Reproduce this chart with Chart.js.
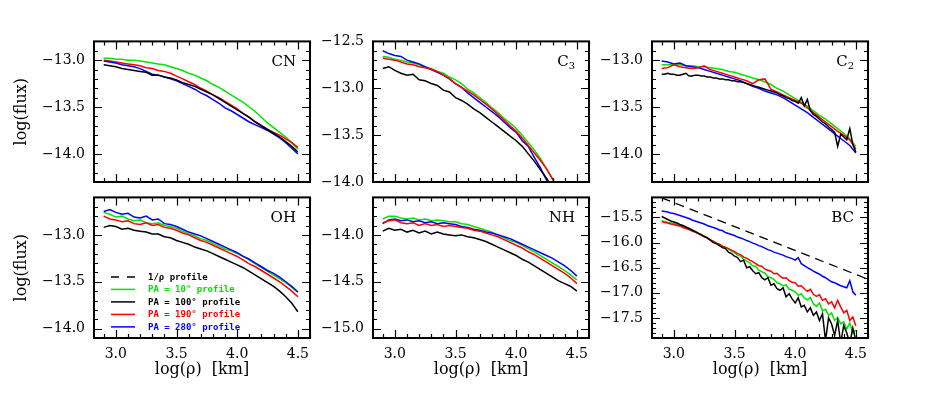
<!DOCTYPE html>
<html>
<head>
<meta charset="utf-8">
<script src="https://cdn.jsdelivr.net/npm/chart.js@4.4.1/dist/chart.umd.min.js"></script>
<style>
  html, body { margin: 0; padding: 0; background: #fff; }
  body { width: 926px; height: 408px; position: relative; overflow: hidden; }
  canvas { position: absolute; }
</style>
</head>
<body>
<script>
// radial distance grids, log(rho) in km
const rhoCoarse = [2.90, 2.95, 3.00, 3.05, 3.10, 3.15, 3.20, 3.25, 3.30, 3.35, 3.40,
  3.45, 3.50, 3.55, 3.60, 3.65, 3.70, 3.75, 3.80, 3.85, 3.90, 3.95, 4.00, 4.05, 4.10,
  4.15, 4.20, 4.25, 4.30, 4.35, 4.40, 4.45, 4.50]
const rhoFine = [2.900, 2.925, 2.950, 2.975, 3.000, 3.025, 3.050, 3.075, 3.100, 3.125,
  3.150, 3.175, 3.200, 3.225, 3.250, 3.275, 3.300, 3.325, 3.350, 3.375, 3.400, 3.425,
  3.450, 3.475, 3.500, 3.525, 3.550, 3.575, 3.600, 3.625, 3.650, 3.675, 3.700, 3.725,
  3.750, 3.775, 3.800, 3.825, 3.850, 3.875, 3.900, 3.925, 3.950, 3.975, 4.000, 4.025,
  4.050, 4.075, 4.100, 4.125, 4.150, 4.175, 4.200, 4.225, 4.250, 4.275, 4.300, 4.325,
  4.350, 4.375, 4.400, 4.425, 4.450, 4.475, 4.500]

// CN
const cnGreen = [-12.98, -12.98, -12.99, -12.99, -13.00, -13.00, -13.01, -13.02, -13.03, -13.04, -13.05,
  -13.07, -13.09, -13.11, -13.14, -13.16, -13.19, -13.22, -13.26, -13.29, -13.33, -13.37, -13.41, -13.45,
  -13.50, -13.55, -13.61, -13.67, -13.72, -13.77, -13.82, -13.88, -13.95]
const cnBlack = [-13.05, -13.06, -13.07, -13.09, -13.10, -13.11, -13.12, -13.13, -13.16, -13.16, -13.18,
  -13.19, -13.21, -13.24, -13.26, -13.28, -13.31, -13.34, -13.37, -13.41, -13.45, -13.49, -13.53, -13.57,
  -13.61, -13.66, -13.70, -13.74, -13.78, -13.82, -13.87, -13.92, -13.98]
const cnRed = [-13.00, -13.01, -13.02, -13.03, -13.04, -13.05, -13.06, -13.08, -13.09, -13.11, -13.12,
  -13.14, -13.17, -13.20, -13.23, -13.26, -13.30, -13.33, -13.37, -13.40, -13.44, -13.48, -13.52, -13.57,
  -13.61, -13.66, -13.70, -13.74, -13.77, -13.80, -13.84, -13.88, -13.93]
const cnBlue = [-13.01, -13.02, -13.03, -13.05, -13.06, -13.07, -13.09, -13.12, -13.15, -13.16, -13.18,
  -13.20, -13.22, -13.25, -13.28, -13.31, -13.35, -13.38, -13.42, -13.46, -13.51, -13.54, -13.58, -13.62,
  -13.66, -13.69, -13.72, -13.75, -13.79, -13.83, -13.88, -13.94, -14.00]

// C3
const c3Green = [-12.66, -12.67, -12.69, -12.70, -12.72, -12.73, -12.75, -12.78, -12.79, -12.82, -12.84,
  -12.88, -12.91, -12.95, -13.01, -13.05, -13.10, -13.15, -13.21, -13.26, -13.32, -13.37, -13.43, -13.50,
  -13.58, -13.66, -13.75, -13.86, -13.97, -14.09, -14.21, -14.33, -14.45]
const c3Black = [-12.79, -12.77, -12.81, -12.84, -12.86, -12.85, -12.91, -12.92, -12.95, -12.97, -13.02,
  -13.04, -13.10, -13.13, -13.17, -13.22, -13.26, -13.31, -13.36, -13.41, -13.46, -13.51, -13.56, -13.62,
  -13.70, -13.78, -13.87, -13.96, -14.06, -14.17, -14.28, -14.40, -14.52]
const c3Red = [-12.68, -12.69, -12.70, -12.72, -12.74, -12.75, -12.77, -12.78, -12.80, -12.82, -12.86,
  -12.90, -12.95, -12.99, -13.03, -13.07, -13.12, -13.17, -13.22, -13.28, -13.34, -13.40, -13.46, -13.53,
  -13.61, -13.69, -13.77, -13.86, -13.97, -14.08, -14.20, -14.32, -14.45]
const c3Blue = [-12.60, -12.63, -12.65, -12.66, -12.70, -12.72, -12.74, -12.77, -12.80, -12.83, -12.86,
  -12.90, -12.95, -12.99, -13.05, -13.10, -13.15, -13.20, -13.25, -13.30, -13.36, -13.42, -13.47, -13.56,
  -13.62, -13.74, -13.85, -13.98, -14.10, -14.22, -14.35, -14.48, -14.60]

// C2 (black on the fine grid)
const c2Green = [-13.05, -13.05, -13.05, -13.05, -13.06, -13.06, -13.07, -13.07, -13.08, -13.09, -13.10,
  -13.12, -13.13, -13.15, -13.17, -13.19, -13.21, -13.23, -13.26, -13.30, -13.33, -13.37, -13.41, -13.45,
  -13.49, -13.54, -13.59, -13.63, -13.68, -13.73, -13.78, -13.84, -13.92]
const c2Black = [-13.15, -13.15, -13.14, -13.15, -13.15, -13.16, -13.16, -13.15, -13.14, -13.17,
  -13.17, -13.16, -13.16, -13.17, -13.17, -13.18, -13.18, -13.19, -13.19, -13.20,
  -13.20, -13.21, -13.21, -13.22, -13.22, -13.23, -13.23, -13.24, -13.25, -13.26,
  -13.27, -13.28, -13.29, -13.30, -13.31, -13.32, -13.33, -13.34, -13.35, -13.37,
  -13.38, -13.40, -13.41, -13.43, -13.44, -13.46, -13.40, -13.49, -13.42, -13.54,
  -13.58, -13.60, -13.63, -13.66, -13.68, -13.71, -13.74, -13.77, -13.92, -13.79,
  -13.82, -13.85, -13.73, -13.90, -13.98]
const c2Red = [-13.09, -13.08, -13.05, -13.07, -13.08, -13.09, -13.08, -13.06, -13.10, -13.12, -13.14,
  -13.16, -13.18, -13.20, -13.22, -13.25, -13.21, -13.20, -13.31, -13.34, -13.37, -13.40, -13.43, -13.46,
  -13.51, -13.56, -13.61, -13.66, -13.71, -13.76, -13.80, -13.85, -13.95]
const c2Blue = [-13.01, -13.02, -13.04, -13.03, -13.06, -13.07, -13.08, -13.10, -13.12, -13.14, -13.16,
  -13.18, -13.20, -13.22, -13.25, -13.28, -13.30, -13.33, -13.35, -13.37, -13.40, -13.44, -13.48, -13.52,
  -13.56, -13.61, -13.66, -13.71, -13.76, -13.81, -13.86, -13.91, -13.99]

// OH
const ohGreen = [-12.76, -12.78, -12.81, -12.80, -12.83, -12.85, -12.84, -12.87, -12.88, -12.87, -12.90,
  -12.91, -12.93, -12.96, -12.99, -13.01, -13.04, -13.06, -13.09, -13.12, -13.15, -13.17, -13.20, -13.23,
  -13.27, -13.31, -13.35, -13.39, -13.43, -13.47, -13.51, -13.56, -13.61]
const ohBlack = [-12.92, -12.90, -12.91, -12.94, -12.93, -12.95, -12.96, -12.97, -12.99, -12.99, -13.02,
  -13.03, -13.06, -13.08, -13.10, -13.13, -13.15, -13.17, -13.20, -13.23, -13.26, -13.29, -13.32, -13.35,
  -13.39, -13.43, -13.47, -13.51, -13.55, -13.60, -13.66, -13.73, -13.82]
const ohRed = [-12.80, -12.83, -12.84, -12.86, -12.85, -12.88, -12.89, -12.87, -12.90, -12.89, -12.92,
  -12.93, -12.95, -12.98, -13.00, -13.03, -13.06, -13.08, -13.11, -13.14, -13.17, -13.20, -13.23, -13.27,
  -13.31, -13.34, -13.38, -13.42, -13.46, -13.50, -13.55, -13.60, -13.66]
const ohBlue = [-12.75, -12.73, -12.76, -12.78, -12.77, -12.81, -12.82, -12.80, -12.84, -12.83, -12.88,
  -12.89, -12.91, -12.94, -12.97, -12.99, -13.01, -13.04, -13.07, -13.10, -13.13, -13.16, -13.19, -13.23,
  -13.26, -13.30, -13.34, -13.38, -13.41, -13.45, -13.50, -13.55, -13.61]

// NH
const nhGreen = [-13.83, -13.80, -13.80, -13.82, -13.83, -13.82, -13.84, -13.83, -13.85, -13.84, -13.85,
  -13.86, -13.86, -13.88, -13.89, -13.91, -13.93, -13.95, -13.97, -14.00, -14.03, -14.06, -14.08, -14.11,
  -14.15, -14.18, -14.22, -14.26, -14.30, -14.34, -14.38, -14.43, -14.48]
const nhBlack = [-13.96, -13.93, -13.95, -13.94, -13.97, -13.95, -13.98, -13.96, -13.99, -13.97, -13.99,
  -14.00, -14.01, -14.00, -14.02, -14.03, -14.05, -14.07, -14.10, -14.13, -14.16, -14.19, -14.22, -14.26,
  -14.29, -14.33, -14.37, -14.41, -14.45, -14.49, -14.52, -14.55, -14.60]
const nhRed = [-13.87, -13.85, -13.84, -13.87, -13.88, -13.87, -13.90, -13.88, -13.90, -13.89, -13.91,
  -13.90, -13.91, -13.92, -13.93, -13.95, -13.96, -13.98, -14.00, -14.02, -14.05, -14.08, -14.11, -14.14,
  -14.18, -14.21, -14.25, -14.29, -14.33, -14.37, -14.41, -14.46, -14.52]
const nhBlue = [-13.88, -13.84, -13.83, -13.85, -13.84, -13.86, -13.85, -13.87, -13.86, -13.88, -13.87,
  -13.88, -13.89, -13.91, -13.92, -13.94, -13.95, -13.97, -13.98, -14.00, -14.02, -14.04, -14.07, -14.10,
  -14.13, -14.16, -14.19, -14.22, -14.25, -14.29, -14.33, -14.38, -14.44]

// BC (fine grid)
const bcGreen = [-15.57, -15.58, -15.60, -15.61, -15.62, -15.64, -15.65, -15.68, -15.70, -15.72,
  -15.75, -15.78, -15.81, -15.84, -15.87, -15.91, -15.94, -15.98, -16.01, -16.04,
  -16.07, -16.10, -16.13, -16.17, -16.20, -16.25, -16.27, -16.33, -16.37, -16.40,
  -16.46, -16.47, -16.55, -16.58, -16.61, -16.68, -16.70, -16.73, -16.80, -16.82,
  -16.86, -16.84, -16.93, -16.95, -16.98, -17.05, -17.02, -17.10, -17.14, -17.09,
  -17.22, -17.27, -17.20, -17.36, -17.33, -17.45, -17.40, -17.55, -17.49, -17.62,
  -17.58, -17.72, -17.60, -17.80, -17.74]
const bcBlack = [-15.48, -15.51, -15.54, -15.57, -15.59, -15.61, -15.64, -15.66, -15.69, -15.72,
  -15.75, -15.78, -15.81, -15.84, -15.88, -15.90, -15.95, -16.00, -16.02, -16.06,
  -16.10, -16.12, -16.19, -16.22, -16.27, -16.30, -16.38, -16.35, -16.50, -16.48,
  -16.56, -16.62, -16.60, -16.70, -16.74, -16.70, -16.85, -16.82, -16.92, -16.95,
  -16.90, -17.08, -17.02, -17.12, -17.20, -17.10, -17.28, -17.25, -17.38, -17.30,
  -17.45, -17.38, -17.55, -17.42, -17.95, -17.50, -17.62, -17.85, -17.55, -18.00,
  -17.65, -17.80, -18.00, -17.70, -17.95]
const bcRed = [-15.58, -15.60, -15.61, -15.63, -15.64, -15.66, -15.67, -15.70, -15.72, -15.74,
  -15.77, -15.79, -15.82, -15.85, -15.88, -15.91, -15.95, -15.97, -16.01, -16.03,
  -16.07, -16.09, -16.12, -16.15, -16.18, -16.22, -16.24, -16.29, -16.31, -16.35,
  -16.38, -16.42, -16.46, -16.47, -16.53, -16.55, -16.57, -16.62, -16.61, -16.67,
  -16.71, -16.70, -16.76, -16.79, -16.80, -16.87, -16.86, -16.92, -16.97, -16.93,
  -17.03, -17.07, -17.04, -17.15, -17.12, -17.22, -17.18, -17.30, -17.15, -17.28,
  -17.40, -17.35, -17.55, -17.48, -17.66]
const bcBlue = [-15.37, -15.38, -15.39, -15.41, -15.42, -15.44, -15.46, -15.48, -15.50, -15.52,
  -15.55, -15.57, -15.59, -15.61, -15.63, -15.66, -15.68, -15.70, -15.72, -15.75,
  -15.76, -15.80, -15.82, -15.84, -15.86, -15.89, -15.91, -15.93, -15.96, -15.98,
  -16.01, -16.03, -16.06, -16.08, -16.11, -16.14, -16.16, -16.19, -16.21, -16.23,
  -16.25, -16.28, -16.30, -16.32, -16.35, -16.30, -16.42, -16.46, -16.50, -16.53,
  -16.57, -16.60, -16.63, -16.67, -16.70, -16.74, -16.78, -16.80, -16.83, -16.86,
  -16.88, -16.90, -16.76, -16.98, -17.05]
// 1/rho reference line
const bcSlopeRho = [2.90, 4.60]
const bcSlopeFlux = [-15.11, -16.73]

// axis ticks
const xTicks = [3.0, 3.5, 4.0, 4.5]
const cnTicks = [-14.0, -13.5, -13.0]
const c3Ticks = [-14.0, -13.5, -13.0, -12.5]
const c2Ticks = [-14.0, -13.5, -13.0]
const ohTicks = [-14.0, -13.5, -13.0]
const nhTicks = [-15.0, -14.5, -14.0]
const bcTicks = [-17.5, -17.0, -16.5, -16.0, -15.5]

const green = '#00e400'
const black = '#000000'
const red = '#ff0000'
const blue = '#0000ff'

const legendLabels = ['1/\u03c1 profile', 'PA = 10\u00b0 profile', 'PA = 100\u00b0 profile',
  'PA = 190\u00b0 profile', 'PA = 280\u00b0 profile']
const legendColors = [black, green, black, red, blue]

const colLeft = [94, 373, 652]
const rowTop = [34, 190]
const plotW = 216
const plotH = 148
const marginL = 94
const marginT = 10
const marginR = 10
const marginB = 50

const serif = 'DejaVu Serif'

function line(rho, flux, color, dash) {
  return {
    data: rho.map((r, i) => ({ x: r, y: flux[i] })),
    borderColor: color,
    borderWidth: dash ? 1.3 : 1.5,
    borderDash: dash || [],
    pointRadius: 0,
    tension: 0,
    fill: false
  }
}

const panels = [
  { label: 'CN', sub: '', col: 0, row: 0, yMin: -14.3, yMax: -12.8, yTicks: cnTicks,
    lines: [line(rhoCoarse, cnBlack, black), line(rhoCoarse, cnBlue, blue), line(rhoCoarse, cnRed, red), line(rhoCoarse, cnGreen, green)] },
  { label: 'C', sub: '3', col: 1, row: 0, yMin: -14.0, yMax: -12.5, yTicks: c3Ticks,
    lines: [line(rhoCoarse, c3Black, black), line(rhoCoarse, c3Red, red), line(rhoCoarse, c3Blue, blue), line(rhoCoarse, c3Green, green)] },
  { label: 'C', sub: '2', col: 2, row: 0, yMin: -14.3, yMax: -12.8, yTicks: c2Ticks,
    lines: [line(rhoFine, c2Black, black), line(rhoCoarse, c2Red, red), line(rhoCoarse, c2Blue, blue), line(rhoCoarse, c2Green, green)] },
  { label: 'OH', sub: '', col: 0, row: 1, yMin: -14.1, yMax: -12.6, yTicks: ohTicks, legend: true,
    lines: [line(rhoCoarse, ohBlack, black), line(rhoCoarse, ohRed, red), line(rhoCoarse, ohBlue, blue), line(rhoCoarse, ohGreen, green)] },
  { label: 'NH', sub: '', col: 1, row: 1, yMin: -15.1, yMax: -13.6, yTicks: nhTicks,
    lines: [line(rhoCoarse, nhBlack, black), line(rhoCoarse, nhRed, red), line(rhoCoarse, nhBlue, blue), line(rhoCoarse, nhGreen, green)] },
  { label: 'BC', sub: '', col: 2, row: 1, yMin: -17.9, yMax: -15.1, yTicks: bcTicks,
    lines: [line(bcSlopeRho, bcSlopeFlux, black, [9, 6]), line(rhoFine, bcBlack, black), line(rhoFine, bcRed, red), line(rhoFine, bcGreen, green), line(rhoFine, bcBlue, blue)] }
]

// frame, inward ticks on all four sides, panel name and legend
const framePlugin = {
  id: 'frame',
  afterDatasetsDraw(chart, args, opts) {
    const { ctx, chartArea: a } = chart
    const sx = chart.scales.x
    const sy = chart.scales.y
    ctx.save()
    ctx.strokeStyle = '#000'
    ctx.lineWidth = 1.2
    ctx.beginPath()
    for (let k = Math.ceil(sx.min * 10 - 1e-6); k <= Math.floor(sx.max * 10 + 1e-6); k++) {
      const px = Math.round(sx.getPixelForValue(k / 10)) + 0.5
      const len = k % 5 === 0 ? 8 : 4
      ctx.moveTo(px, a.bottom); ctx.lineTo(px, a.bottom - len)
      ctx.moveTo(px, a.top); ctx.lineTo(px, a.top + len)
    }
    for (let k = Math.ceil(sy.min * 10 - 1e-6); k <= Math.floor(sy.max * 10 + 1e-6); k++) {
      const py = Math.round(sy.getPixelForValue(k / 10)) + 0.5
      const len = k % 5 === 0 ? 8 : 4
      ctx.moveTo(a.left, py); ctx.lineTo(a.left + len, py)
      ctx.moveTo(a.right, py); ctx.lineTo(a.right - len, py)
    }
    ctx.stroke()
    ctx.lineWidth = 2
    ctx.strokeRect(a.left, a.top, a.width, a.height)

    // panel name
    ctx.fillStyle = '#000'
    ctx.textBaseline = 'middle'
    ctx.textAlign = 'right'
    let right = a.right - 14
    if (opts.sub) {
      ctx.font = '10px "' + serif + '"'
      ctx.fillText(opts.sub, right, a.top + 25)
      right -= ctx.measureText(opts.sub).width
    }
    ctx.font = '15px "' + serif + '"'
    ctx.fillText(opts.label, right, a.top + 21)

    if (opts.legend) {
      ctx.font = 'bold 9px "DejaVu Sans Mono"'
      ctx.textAlign = 'left'
      legendLabels.forEach((text, i) => {
        const y = a.top + 79.5 + i * 12.5
        ctx.strokeStyle = legendColors[i]
        ctx.lineWidth = 1.5
        ctx.setLineDash(i === 0 ? [8, 8] : [])
        ctx.beginPath()
        ctx.moveTo(a.left + 17, y)
        ctx.lineTo(a.left + 41, y)
        ctx.stroke()
        ctx.fillStyle = legendColors[i]
        ctx.fillText(text, a.left + 54, y + 0.5)
      })
      ctx.setLineDash([])
    }
    ctx.restore()
  }
}

const tickFont = { family: serif, size: 14 }
const titleFont = { family: serif, size: 16 }

panels.forEach((p) => {
  const canvas = document.createElement('canvas')
  canvas.width = marginL + plotW + marginR
  canvas.height = marginT + plotH + marginB
  canvas.style.left = (colLeft[p.col] - marginL) + 'px'
  canvas.style.top = (rowTop[p.row] - marginT) + 'px'
  canvas.style.width = canvas.width + 'px'
  canvas.style.height = canvas.height + 'px'
  document.body.appendChild(canvas)

  new Chart(canvas, {
    type: 'line',
    data: { datasets: p.lines },
    plugins: [framePlugin],
    options: {
      responsive: false,
      animation: false,
      devicePixelRatio: 1,
      layout: { padding: { left: 0, top: marginT, right: marginR, bottom: 0 } },
      plugins: {
        legend: { display: false },
        tooltip: { enabled: false },
        frame: { label: p.label, sub: p.sub, legend: !!p.legend }
      },
      scales: {
        x: {
          type: 'linear',
          min: 2.82,
          max: 4.6,
          afterFit: (s) => { s.height = marginB },
          afterBuildTicks: (s) => { s.ticks = xTicks.map((v) => ({ value: v })) },
          grid: { display: false, drawTicks: false },
          border: { display: false },
          ticks: {
            display: p.row === 1,
            padding: 8,
            color: '#000',
            font: tickFont,
            maxRotation: 0,
            autoSkip: false,
            callback: (v) => Number(v).toFixed(1)
          },
          title: {
            display: p.row === 1,
            text: 'log(\u03c1)  [km]',
            color: '#000',
            font: titleFont,
            padding: { top: 0, bottom: 9 }
          }
        },
        y: {
          type: 'linear',
          min: p.yMin,
          max: p.yMax,
          afterFit: (s) => { s.width = marginL },
          afterBuildTicks: (s) => { s.ticks = p.yTicks.map((v) => ({ value: v })) },
          grid: { display: false, drawTicks: false },
          border: { display: false },
          ticks: {
            padding: 9,
            color: '#000',
            font: tickFont,
            autoSkip: false,
            callback: (v) => (v < 0 ? '\u2212' : '') + Math.abs(v).toFixed(1)
          },
          title: {
            display: p.col === 0,
            text: 'log(flux)',
            color: '#000',
            font: titleFont,
            padding: { top: 12, bottom: 0 }
          }
        }
      }
    }
  })
})
</script>
</body>
</html>
